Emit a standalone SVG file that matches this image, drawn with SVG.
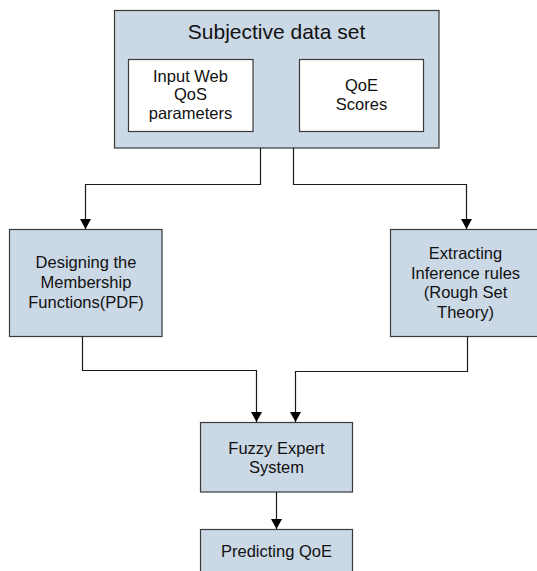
<svg xmlns="http://www.w3.org/2000/svg" width="537" height="571" viewBox="0 0 537 571">
  <style>
    .box { fill: #cbd8e6; stroke: #3a3a3a; stroke-width: 1.2; }
    .inner { fill: #ffffff; stroke: #3a3a3a; stroke-width: 1.2; }
    .lbl { font-family: "Liberation Sans", Arial, sans-serif; font-size: 16.5px; fill: #111; text-anchor: middle; }
    .title { font-family: "Liberation Sans", Arial, sans-serif; font-size: 21px; fill: #111; text-anchor: middle; }
    .conn { fill: none; stroke: #1a1a1a; stroke-width: 1.2; }
  </style>
  <defs>
    <marker id="arrow" markerUnits="userSpaceOnUse" markerWidth="11" markerHeight="11" refX="10" refY="5.5" orient="auto">
      <path d="M0,0 L10,5.5 L0,11 z" fill="#000"/>
    </marker>
  </defs>

  <g id="subjective-data-set">
    <rect class="box" x="114.5" y="10.5" width="324.5" height="137.5"/>
    <text class="title" x="276.5" y="38.5">Subjective data set</text>
    <g id="input-web-qos">
      <rect class="inner" x="128.5" y="59.5" width="124.5" height="72"/>
      <text class="lbl" x="190.5" y="81.5">Input Web</text>
      <text class="lbl" x="190.5" y="100">QoS</text>
      <text class="lbl" x="190.5" y="118.5">parameters</text>
    </g>
    <g id="qoe-scores">
      <rect class="inner" x="299.5" y="59.5" width="124" height="72"/>
      <text class="lbl" x="361.5" y="91">QoE</text>
      <text class="lbl" x="361.5" y="110">Scores</text>
    </g>
  </g>

  <g id="designing-membership">
    <rect class="box" x="9.5" y="229.5" width="152.5" height="107"/>
    <text class="lbl" x="86" y="268">Designing the</text>
    <text class="lbl" x="86" y="288">Membership</text>
    <text class="lbl" x="86" y="308">Functions(PDF)</text>
  </g>

  <g id="extracting-rules">
    <rect class="box" x="390.5" y="229.5" width="148" height="107"/>
    <text class="lbl" x="465.5" y="259">Extracting</text>
    <text class="lbl" x="465.5" y="278.5">Inference rules</text>
    <text class="lbl" x="465.5" y="298">(Rough Set</text>
    <text class="lbl" x="465.5" y="317.5">Theory)</text>
  </g>

  <g id="fuzzy-expert-system">
    <rect class="box" x="200.5" y="422.5" width="152" height="69.5"/>
    <text class="lbl" x="276.5" y="453.5">Fuzzy Expert</text>
    <text class="lbl" x="276.5" y="472.5">System</text>
  </g>

  <g id="predicting-qoe">
    <rect class="box" x="200.5" y="529.5" width="152" height="60"/>
    <text class="lbl" x="276.5" y="557">Predicting QoE</text>
  </g>

  <g id="connectors">
    <path class="conn" d="M260.5,148 V184.5 H85.5 V229" marker-end="url(#arrow)"/>
    <path class="conn" d="M293.5,148 V184.5 H466.5 V229" marker-end="url(#arrow)"/>
    <path class="conn" d="M82.5,336.5 V370.5 H256.5 V422" marker-end="url(#arrow)"/>
    <path class="conn" d="M467.5,336.5 V371.5 H295.5 V422" marker-end="url(#arrow)"/>
    <path class="conn" d="M276.5,492 V529" marker-end="url(#arrow)"/>
  </g>
</svg>
